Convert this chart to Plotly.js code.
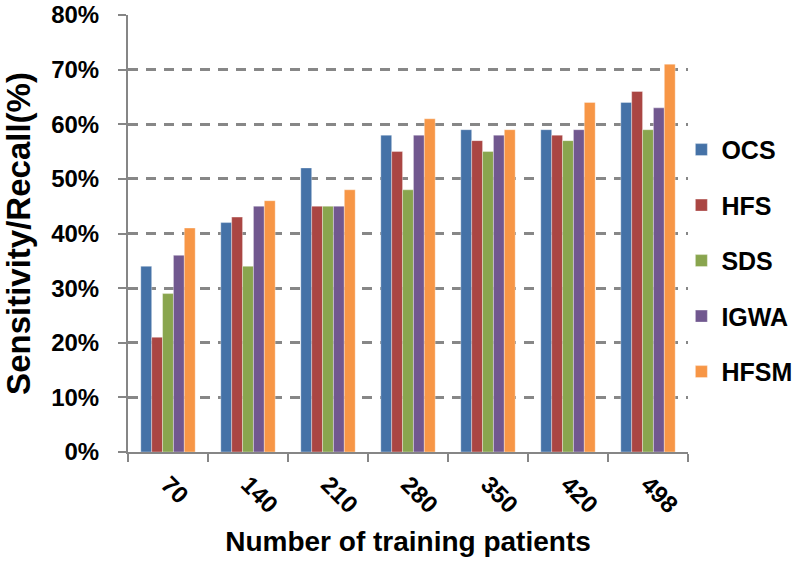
<!DOCTYPE html>
<html>
<head>
<meta charset="utf-8">
<script src="https://cdn.plot.ly/plotly-3.0.1.min.js"></script>
<style>html,body{margin:0;padding:0;background:#fff;}#chart{width:796px;height:561px;}</style>
</head>
<body>
<div id="chart"></div>
<script>
var categories = ["70", "140", "210", "280", "350", "420", "498"];
var seriesNames = ["OCS", "HFS", "SDS", "IGWA", "HFSM"];
var OCS  = [34, 42, 52, 58, 59, 59, 64];
var HFS  = [21, 43, 45, 55, 57, 58, 66];
var SDS  = [29, 34, 45, 48, 55, 57, 59];
var IGWA = [36, 45, 45, 58, 58, 59, 63];
var HFSM = [41, 46, 48, 61, 59, 64, 71];
var yTicks = [0, 10, 20, 30, 40, 50, 60, 70, 80];

var seriesValues = [OCS, HFS, SDS, IGWA, HFSM];
var colors = ["#4572A7", "#AA4643", "#89A54E", "#71588F", "#F79646"];
var FONT = "Arial, 'Liberation Sans', sans-serif";

var traces = seriesNames.map(function (name, i) {
  return {
    type: "bar",
    name: name,
    x: categories,
    y: seriesValues[i],
    legendgroup: name,
    marker: { color: colors[i], line: { color: "rgba(255,255,255,0.35)", width: 1 } },
    hoverinfo: "x+y+name"
  };
});

var layout = {
  width: 796,
  height: 561,
  margin: { l: 128, r: 108, t: 15, b: 109, pad: 0, autoexpand: false },
  paper_bgcolor: "#ffffff",
  plot_bgcolor: "#ffffff",
  barmode: "group",
  bargap: 0.32,
  bargroupgap: 0,
  font: { family: FONT, color: "#000000", size: 20, weight: 700 },
  showlegend: true,
  legend: {
    xref: "container", yref: "container",
    x: 0.856, xanchor: "left",
    y: 0.535, yanchor: "middle",
    font: { family: FONT, size: 25, weight: 700, color: "#000" },
    traceorder: "grouped",
    tracegroupgap: 20,
    bgcolor: "rgba(0,0,0,0)",
    itemwidth: 30
  },
  xaxis: {
    type: "category",
    showline: true, linecolor: "#868686", linewidth: 2,
    ticks: "outside", tickson: "boundaries", ticklen: 8, tickwidth: 2, tickcolor: "#868686",
    tickangle: 45,
    ticklabelstandoff: 7,
    tickfont: { family: FONT, size: 24, weight: 700, color: "#000" },
    showgrid: false, zeroline: false,
    automargin: false,
    title: { text: "Number of training patients", font: { family: FONT, size: 28, weight: 700, color: "#000" }, standoff: 14 }
  },
  yaxis: {
    range: [0, 80],
    tickvals: yTicks,
    ticktext: yTicks.map(function (v) { return v + "%"; }),
    showline: true, linecolor: "#868686", linewidth: 2,
    ticks: "outside", ticklen: 8, tickwidth: 2, tickcolor: "#868686",
    ticklabelstandoff: 14,
    ticklabeloverflow: "allow",
    tickfont: { family: FONT, size: 24, weight: 700, color: "#000" },
    showgrid: true, gridcolor: "#878787", gridwidth: 3, griddash: "10px,8px",
    zeroline: false,
    automargin: false,
    title: { text: "Sensitivity/Recall(%)", font: { family: FONT, size: 33, weight: 700, color: "#000" }, standoff: 13 }
  }
};

Plotly.newPlot("chart", traces, layout, { displayModeBar: false, staticPlot: true });
</script>
</body>
</html>
